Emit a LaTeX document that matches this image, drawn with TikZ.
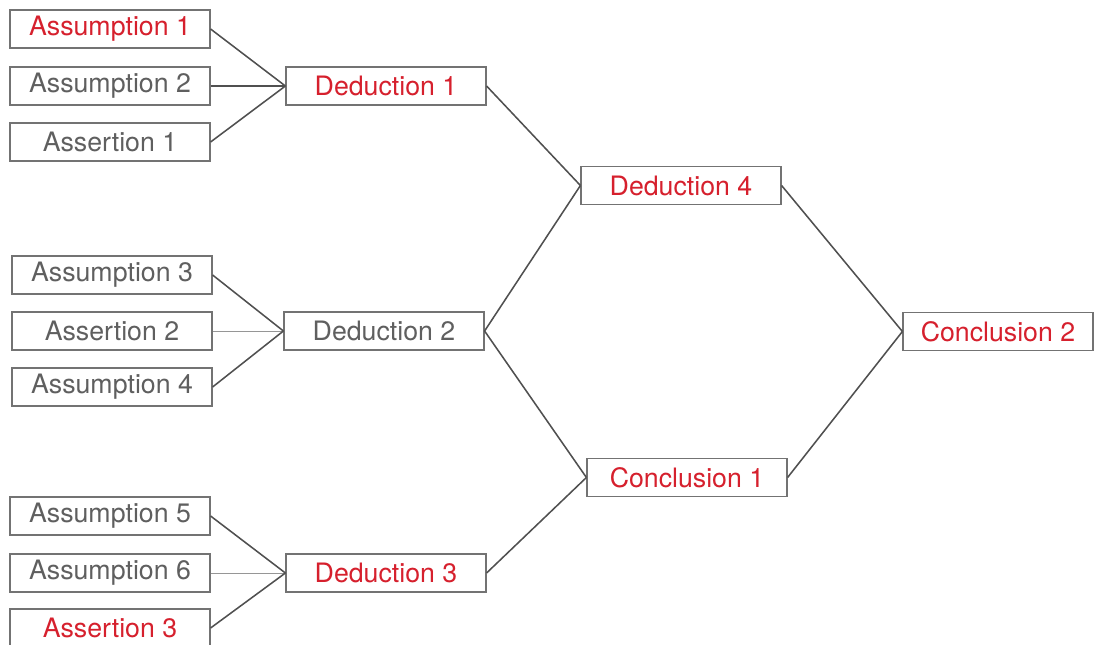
\documentclass[tikz,border=0pt]{standalone}
\usepackage{fontspec}
\setmainfont{TeX Gyre Heros}
\usepackage{xcolor}
\usepackage{tikz}
\usetikzlibrary{positioning}
\definecolor{argred}{RGB}{214,32,45}
\definecolor{textgray}{RGB}{95,95,95}
\definecolor{boxgray}{RGB}{115,115,115}
\definecolor{linegray}{RGB}{80,80,80}
\definecolor{thingray}{RGB}{150,150,150}

\begin{document}
\begin{tikzpicture}[x=0.025cm, y=-0.025cm]
    \tikzstyle{stmt} = [rectangle, minimum width=5cm, minimum height=0.95cm, inner sep=0pt, text centered, draw=boxgray, line width=0.8pt, fill=white, text=textgray, font=\fontsize{19}{21}\selectfont]
    \tikzstyle{key} = [stmt, text=argred]
    \tikzstyle{link} = [draw=linegray, line width=1.1pt]
    \tikzstyle{weak} = [draw=thingray, line width=0.6pt]

    \useasboundingbox (0,0) rectangle (1094,645);

    % First group
    \node [key] (asm1) at (110,29) {Assumption 1};
    \node [stmt] (asm2) at (110,86) {Assumption 2};
    \node [stmt] (ast1) at (110,142) {Assertion 1};
    \node [key] (ded1) at (386,86) {Deduction 1};

    % Second group
    \node [stmt] (asm3) at (112,275) {Assumption 3};
    \node [stmt] (ast2) at (112,331) {Assertion 2};
    \node [stmt] (asm4) at (112,387) {Assumption 4};
    \node [stmt] (ded2) at (384,331) {Deduction 2};

    % Third group
    \node [stmt] (asm5) at (110,516) {Assumption 5};
    \node [stmt] (asm6) at (110,573) {Assumption 6};
    \node [key] (ast3) at (110,628) {Assertion 3};
    \node [key] (ded3) at (386,573) {Deduction 3};

    % Later steps
    \node [key] (ded4) at (681,185.5) {Deduction 4};
    \node [key] (con1) at (687,477.5) {Conclusion 1};
    \node [key, minimum width=4.75cm] (con2) at (998,331.5) {Conclusion 2};

    % Links
    \draw [link] (asm1.east) -- (ded1.west);
    \draw [link] (asm2.east) -- (ded1.west);
    \draw [link] (ast1.east) -- (ded1.west);
    \draw [link] (asm3.east) -- (ded2.west);
    \draw [weak] (ast2.east) -- (ded2.west);
    \draw [link] (asm4.east) -- (ded2.west);
    \draw [link] (asm5.east) -- (ded3.west);
    \draw [weak] (asm6.east) -- (ded3.west);
    \draw [link] (ast3.east) -- (ded3.west);
    \draw [link] (ded1.east) -- (ded4.west);
    \draw [link] (ded2.east) -- (ded4.west);
    \draw [link] (ded2.east) -- (con1.west);
    \draw [link] (ded3.east) -- (con1.west);
    \draw [link] (ded4.east) -- (con2.west);
    \draw [link] (con1.east) -- (con2.west);
\end{tikzpicture}
\end{document}
